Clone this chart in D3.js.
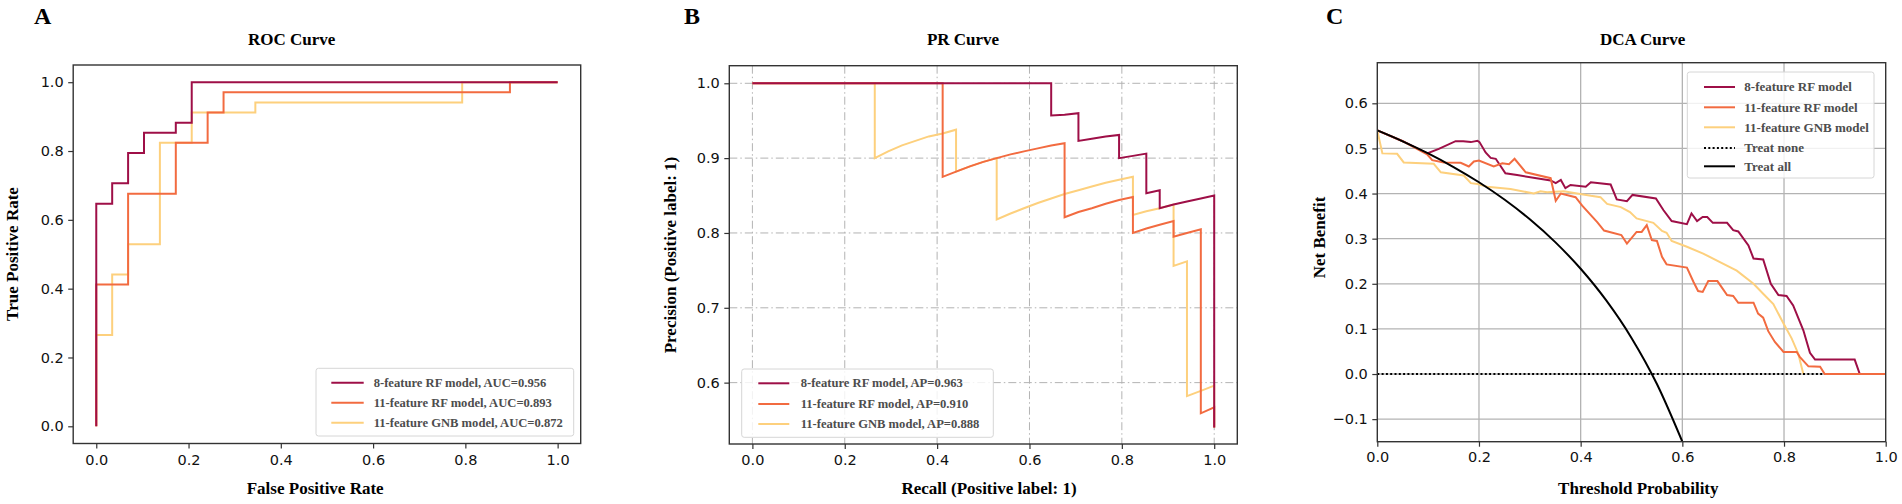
<!DOCTYPE html>
<html><head><meta charset="utf-8">
<script src="https://cdn.jsdelivr.net/npm/d3@7/dist/d3.min.js"></script>
<style>
html,body{margin:0;padding:0;background:#fff;}
svg{display:block;}
</style></head>
<body>
<svg id="chart" width="1902" height="504"></svg>
<script>
// ---------------- DATA ----------------
const seriesNames = ["8-feature RF model", "11-feature RF model", "11-feature GNB model"];
const seriesColors = ["#9e0f47", "#f26b40", "#fdd07d"];
const aucValues = ["0.956", "0.893", "0.872"];
const apValues = ["0.963", "0.910", "0.888"];

// ROC curves: [FPR, TPR]
const roc8RF = [[0,0],[0,0.647],[0.0345,0.647],[0.0345,0.706],[0.069,0.706],[0.069,0.794],[0.1034,0.794],[0.1034,0.853],[0.1724,0.853],[0.1724,0.882],[0.2069,0.882],[0.2069,1],[1,1]];
const roc11RF = [[0,0],[0,0.412],[0.069,0.412],[0.069,0.676],[0.1724,0.676],[0.1724,0.824],[0.2414,0.824],[0.2414,0.912],[0.2759,0.912],[0.2759,0.971],[0.8966,0.971],[0.8966,1],[1,1]];
const roc11GNB = [[0,0],[0,0.265],[0.0345,0.265],[0.0345,0.441],[0.069,0.441],[0.069,0.529],[0.1379,0.529],[0.1379,0.824],[0.2069,0.824],[0.2069,0.912],[0.3448,0.912],[0.3448,0.941],[0.7931,0.941],[0.7931,1],[1,1]];

// PR curves: [recall, precision]
const pr8RF = [[0,1],[0.647,1],[0.647,0.957],[0.676,0.958],[0.706,0.96],[0.706,0.923],[0.735,0.926],[0.765,0.929],[0.794,0.931],[0.794,0.9],[0.824,0.903],[0.853,0.906],[0.853,0.879],[0.853,0.853],[0.882,0.857],[0.882,0.833],[0.912,0.838],[0.941,0.842],[0.971,0.846],[1,0.85],[1,0.54]];
const pr11RF = [[0,1],[0.412,1],[0.412,0.933],[0.412,0.875],[0.441,0.882],[0.471,0.889],[0.5,0.895],[0.529,0.9],[0.559,0.905],[0.588,0.909],[0.618,0.913],[0.647,0.917],[0.676,0.92],[0.676,0.821],[0.706,0.828],[0.735,0.833],[0.765,0.839],[0.794,0.844],[0.824,0.848],[0.824,0.8],[0.853,0.806],[0.882,0.811],[0.912,0.816],[0.912,0.795],[0.941,0.8],[0.971,0.805],[0.971,0.559],[1,0.567],[1,0.54]];
const pr11GNB = [[0,1],[0.265,1],[0.265,0.9],[0.294,0.909],[0.324,0.917],[0.353,0.923],[0.382,0.929],[0.412,0.933],[0.441,0.938],[0.441,0.882],[0.471,0.889],[0.5,0.895],[0.529,0.9],[0.529,0.818],[0.559,0.826],[0.588,0.833],[0.618,0.84],[0.647,0.846],[0.676,0.852],[0.706,0.857],[0.735,0.862],[0.765,0.867],[0.794,0.871],[0.824,0.875],[0.824,0.824],[0.853,0.829],[0.882,0.833],[0.912,0.838],[0.912,0.756],[0.941,0.762],[0.941,0.582],[0.971,0.589],[1,0.596],[1,0.54]];

// DCA curves: [threshold, net benefit]
const dca8RF = [[0,0.54],[0.05,0.516],[0.098,0.489],[0.121,0.499],[0.154,0.516],[0.169,0.516],[0.184,0.514],[0.197,0.517],[0.201,0.514],[0.213,0.491],[0.223,0.479],[0.233,0.477],[0.252,0.445],[0.275,0.441],[0.341,0.429],[0.351,0.423],[0.361,0.43],[0.37,0.412],[0.38,0.419],[0.41,0.415],[0.42,0.425],[0.459,0.42],[0.471,0.387],[0.491,0.383],[0.502,0.397],[0.548,0.389],[0.563,0.363],[0.579,0.339],[0.609,0.332],[0.618,0.356],[0.629,0.339],[0.64,0.348],[0.649,0.348],[0.66,0.335],[0.688,0.335],[0.7,0.319],[0.71,0.316],[0.73,0.285],[0.74,0.256],[0.759,0.254],[0.774,0.2],[0.789,0.175],[0.805,0.173],[0.818,0.152],[0.838,0.097],[0.851,0.047],[0.861,0.032],[0.939,0.032],[0.949,0],[1,0]];
const dca11RF = [[0,0.54],[0.05,0.516],[0.098,0.487],[0.108,0.474],[0.131,0.469],[0.164,0.468],[0.18,0.46],[0.19,0.471],[0.2,0.473],[0.229,0.46],[0.246,0.467],[0.259,0.465],[0.27,0.477],[0.292,0.447],[0.341,0.434],[0.351,0.384],[0.361,0.4],[0.39,0.392],[0.403,0.373],[0.433,0.336],[0.446,0.318],[0.48,0.308],[0.491,0.289],[0.51,0.315],[0.52,0.315],[0.53,0.33],[0.54,0.297],[0.55,0.295],[0.56,0.26],[0.569,0.243],[0.609,0.236],[0.622,0.204],[0.631,0.184],[0.64,0.182],[0.651,0.206],[0.669,0.206],[0.688,0.175],[0.7,0.173],[0.71,0.158],[0.74,0.158],[0.749,0.134],[0.759,0.125],[0.769,0.095],[0.782,0.071],[0.799,0.049],[0.825,0.049],[0.831,0.038],[0.848,0.017],[0.871,0.016],[0.88,0],[1,0]];
const dca11GNB = [[0,0.54],[0.01,0.489],[0.039,0.488],[0.052,0.469],[0.111,0.466],[0.125,0.447],[0.17,0.44],[0.184,0.423],[0.197,0.421],[0.216,0.415],[0.262,0.41],[0.308,0.4],[0.321,0.405],[0.334,0.403],[0.367,0.405],[0.393,0.4],[0.42,0.395],[0.439,0.392],[0.452,0.377],[0.479,0.37],[0.497,0.359],[0.51,0.345],[0.543,0.335],[0.56,0.317],[0.569,0.313],[0.579,0.295],[0.609,0.282],[0.641,0.267],[0.674,0.248],[0.707,0.229],[0.74,0.2],[0.759,0.178],[0.779,0.155],[0.799,0.112],[0.815,0.079],[0.828,0.045],[0.838,0]];
const dcaTreatAll = [[0,0.54],[0.05,0.5158],[0.1,0.4889],[0.15,0.4588],[0.2,0.425],[0.25,0.3867],[0.3,0.3429],[0.35,0.2923],[0.4,0.2333],[0.45,0.1636],[0.5,0.08],[0.55,-0.0222],[0.6,-0.15]];
const dcaTreatNone = [[0,0],[1,0]];

const rocXTicks = [0,0.2,0.4,0.6,0.8,1.0];
const rocYTicks = [0,0.2,0.4,0.6,0.8,1.0];
const prXTicks = [0,0.2,0.4,0.6,0.8,1.0];
const prYTicks = [0.6,0.7,0.8,0.9,1.0];
const dcaXTicks = [0,0.2,0.4,0.6,0.8,1.0];
const dcaYTicks = [-0.1,0,0.1,0.2,0.3,0.4,0.5,0.6];

// ---------------- DRAW ----------------
const svg = d3.select("#chart");
const SERIF = "'Liberation Serif','Times New Roman',serif";
const SANS = "'DejaVu Sans',sans-serif";
const fmt = d3.format(".1f");

function panel(cfg) {
  const x = d3.scaleLinear().domain(cfg.xDomain).range([cfg.box.x0, cfg.box.x1]);
  const y = d3.scaleLinear().domain(cfg.yDomain).range([cfg.box.y1, cfg.box.y0]);
  const g = svg.append("g");
  const clipId = "clip" + cfg.letter;
  svg.append("clipPath").attr("id", clipId).append("rect")
    .attr("x", cfg.box.x0).attr("y", cfg.box.y0)
    .attr("width", cfg.box.x1 - cfg.box.x0).attr("height", cfg.box.y1 - cfg.box.y0);

  if (cfg.grid) {
    const gg = g.append("g").attr("clip-path", `url(#${clipId})`);
    gg.selectAll("line.gx").data(cfg.xTicks).join("line")
      .attr("x1", d => x(d)).attr("x2", d => x(d))
      .attr("y1", cfg.box.y0).attr("y2", cfg.box.y1)
      .attr("stroke", "#b3b3b3").attr("stroke-width", cfg.grid.w)
      .attr("stroke-dasharray", cfg.grid.dash);
    gg.selectAll("line.gy").data(cfg.yTicks).join("line")
      .attr("y1", d => y(d)).attr("y2", d => y(d))
      .attr("x1", cfg.box.x0).attr("x2", cfg.box.x1)
      .attr("stroke", "#b3b3b3").attr("stroke-width", cfg.grid.w)
      .attr("stroke-dasharray", cfg.grid.dash);
  }

  const lg = g.append("g").attr("clip-path", `url(#${clipId})`);
  cfg.series.forEach(s => {
    const line = d3.line().x(d => x(d[0])).y(d => y(d[1]));
    if (s.curve) line.curve(s.curve);
    lg.append("path").datum(s.data)
      .attr("d", line)
      .attr("fill", "none")
      .attr("stroke", s.color)
      .attr("stroke-width", s.width || 2)
      .attr("stroke-dasharray", s.dash || null)
      .attr("stroke-linejoin", "miter");
  });

  const xAxis = d3.axisBottom(x).tickValues(cfg.xTicks).tickFormat(fmt).tickSize(5).tickPadding(cfg.xPad);
  const yAxis = d3.axisLeft(y).tickValues(cfg.yTicks).tickFormat(fmt).tickSize(5).tickPadding(4.5);
  const ax = g.append("g").attr("transform", `translate(0,${cfg.box.y1})`).call(xAxis);
  const ay = g.append("g").attr("transform", `translate(${cfg.box.x0},0)`).call(yAxis);
  [ax, ay].forEach(a => {
    a.select(".domain").remove();
    a.selectAll(".tick line").attr("stroke", "#333").attr("stroke-width", 1.2);
    a.selectAll(".tick text").attr("font-family", SANS).attr("font-size", 14.5).attr("fill", "#111");
  });

  g.append("rect").attr("x", cfg.box.x0).attr("y", cfg.box.y0)
    .attr("width", cfg.box.x1 - cfg.box.x0).attr("height", cfg.box.y1 - cfg.box.y0)
    .attr("fill", "none").attr("stroke", "#333").attr("stroke-width", 1.4);

  g.append("text").attr("x", cfg.title.x).attr("y", 45).attr("text-anchor", "middle")
    .attr("font-family", SERIF).attr("font-weight", "bold").attr("font-size", 17)
    .text(cfg.title.text);
  g.append("text").attr("x", cfg.xlabel.x).attr("y", 494).attr("text-anchor", "middle")
    .attr("font-family", SERIF).attr("font-weight", "bold").attr("font-size", 17)
    .text(cfg.xlabel.text);
  g.append("text").attr("transform", `translate(${cfg.ylabel.x},${cfg.ylabel.y}) rotate(-90)`)
    .attr("text-anchor", "middle")
    .attr("font-family", SERIF).attr("font-weight", "bold").attr("font-size", 17)
    .text(cfg.ylabel.text);
  g.append("text").attr("x", cfg.letterPos[0]).attr("y", cfg.letterPos[1])
    .attr("font-family", SERIF).attr("font-weight", "bold").attr("font-size", 24)
    .text(cfg.letter);

  const L = cfg.legend;
  g.append("rect").attr("x", L.x0).attr("y", L.y0).attr("width", L.x1 - L.x0).attr("height", L.y1 - L.y0)
    .attr("rx", 2.5).attr("fill", "#fff").attr("fill-opacity", 0.82)
    .attr("stroke", "#d6d6d6").attr("stroke-width", 1);
  L.items.forEach((it, i) => {
    const ry = L.rows[i];
    g.append("line").attr("x1", L.lx0).attr("x2", L.lx1).attr("y1", ry).attr("y2", ry)
      .attr("stroke", it.color).attr("stroke-width", 2).attr("stroke-dasharray", it.dash || null);
    g.append("text").attr("x", L.tx).attr("y", ry + L.fs * 0.33)
      .attr("font-family", SERIF).attr("font-weight", "bold").attr("font-size", L.fs)
      .attr("fill", "#4d4d4d").text(it.label);
  });
}

// Panel A: ROC
panel({
  letter: "A", letterPos: [34, 24],
  box: {x0: 73.2, x1: 580.7, y0: 65, y1: 443.5},
  xDomain: [-0.05, 1.05], yDomain: [-0.05, 1.05],
  xTicks: rocXTicks, yTicks: rocYTicks, xPad: 6,
  grid: null,
  series: [
    {data: roc11GNB, color: seriesColors[2]},
    {data: roc11RF, color: seriesColors[1]},
    {data: roc8RF, color: seriesColors[0]}
  ],
  title: {x: 291.6, text: "ROC Curve"},
  xlabel: {x: 315.2, text: "False Positive Rate"},
  ylabel: {x: 18.3, y: 254, text: "True Positive Rate"},
  legend: {x0: 316, x1: 573.7, y0: 368.3, y1: 436, rows: [382.7, 402.7, 422.7], lx0: 331.3, lx1: 363.7, tx: 373.7, fs: 12.6,
    items: seriesNames.map((n, i) => ({label: `${n}, AUC=${aucValues[i]}`, color: seriesColors[i]}))}
});

// Panel B: PR
panel({
  letter: "B", letterPos: [684, 24],
  box: {x0: 729.3, x1: 1237.3, y0: 65.7, y1: 444},
  xDomain: [-0.05, 1.05], yDomain: [0.518, 1.0235],
  xTicks: prXTicks, yTicks: prYTicks, xPad: 6,
  grid: {w: 1, dash: "8,3,1.5,3"},
  series: [
    {data: pr11GNB, color: seriesColors[2]},
    {data: pr11RF, color: seriesColors[1]},
    {data: pr8RF, color: seriesColors[0]}
  ],
  title: {x: 963, text: "PR Curve"},
  xlabel: {x: 989, text: "Recall (Positive label: 1)"},
  ylabel: {x: 676, y: 255, text: "Precision (Positive label: 1)"},
  legend: {x0: 741.7, x1: 993.3, y0: 369, y1: 437.3, rows: [383.3, 404, 424], lx0: 758.3, lx1: 789.3, tx: 800.7, fs: 12.6,
    items: seriesNames.map((n, i) => ({label: `${n}, AP=${apValues[i]}`, color: seriesColors[i]}))}
});

// Panel C: DCA
panel({
  letter: "C", letterPos: [1326, 24],
  box: {x0: 1377.3, x1: 1885.7, y0: 62.7, y1: 441.7},
  xDomain: [0, 1], yDomain: [-0.15, 0.69],
  xTicks: dcaXTicks, yTicks: dcaYTicks, xPad: 5,
  grid: {w: 1.3, dash: null},
  series: [
    {data: dca8RF, color: seriesColors[0]},
    {data: dca11GNB, color: seriesColors[2]},
    {data: dcaTreatNone, color: "#000", dash: "2,2.3"},
    {data: dca11RF, color: seriesColors[1]},
    {data: dcaTreatAll, color: "#000", curve: d3.curveMonotoneX}
  ],
  title: {x: 1642.7, text: "DCA Curve"},
  xlabel: {x: 1638.3, text: "Threshold Probability"},
  ylabel: {x: 1325, y: 237.5, text: "Net Benefit"},
  legend: {x0: 1687.3, x1: 1874, y0: 72, y1: 178, rows: [87, 107.3, 127.3, 148, 166.3], lx0: 1704, lx1: 1735, tx: 1744.3, fs: 13,
    items: [
      {label: seriesNames[0], color: seriesColors[0]},
      {label: seriesNames[1], color: seriesColors[1]},
      {label: seriesNames[2], color: seriesColors[2]},
      {label: "Treat none", color: "#000", dash: "2,2.3"},
      {label: "Treat all", color: "#000"}
    ]}
});
</script>
</body></html>
